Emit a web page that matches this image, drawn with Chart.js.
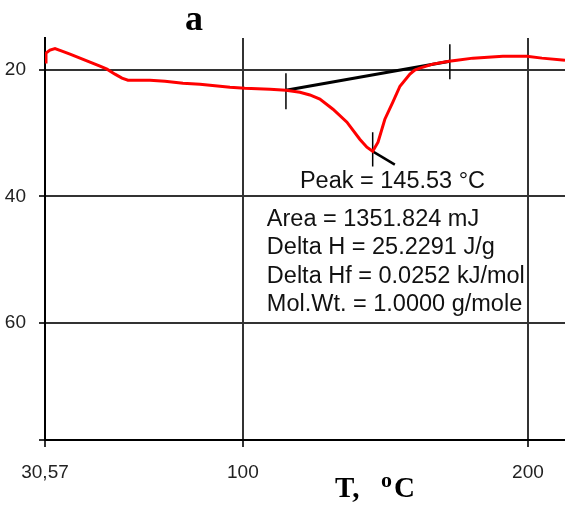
<!DOCTYPE html>
<html>
<head>
<meta charset="utf-8">
<script src="https://cdn.jsdelivr.net/npm/chart.js@4.4.1/dist/chart.umd.min.js"></script>
<style>
  html, body { margin: 0; padding: 0; background: #fff; }
</style>
</head>
<body>
<canvas id="dsc" width="565" height="511"></canvas>
<script>
// DSC trace: temperature (°C) vs heat flow
const temps = [30.57, 30.92, 32.32, 34.08, 36.53, 39.34, 42.85, 46.35, 49.86, 52.32,
  55.12, 57.58, 59.68, 67.4, 72.66, 78.97, 84.94, 95.46, 100.72, 109.5,
  115.1, 120.0, 123.5, 127.0, 131.6, 136.5, 141.0, 143.5, 145.53, 147.4,
  149.8, 152.6, 155.1, 158.6, 160.3, 162.1, 166.6, 172.3, 175.1, 180.7,
  191.2, 199.6, 204.9, 213.0];
const heatFlow = [18.81, 17.39, 16.92, 16.68, 17.08, 17.55, 18.18, 18.81, 19.45, 19.92,
  20.71, 21.34, 21.66, 21.66, 21.82, 22.13, 22.29, 22.77, 22.92, 23.08,
  23.24, 23.56, 24.0, 24.66, 26.25, 28.3, 30.99, 32.25, 32.9, 31.46,
  27.83, 25.14, 22.61, 20.71, 20.08, 19.76, 19.13, 18.66, 18.5, 18.18,
  17.87, 17.87, 18.18, 18.5];

const xTicks = [30.57, 100, 200];
const yTicks = [20, 40, 60];

// integration baseline and its markers
const baselineT = [115.1, 172.6];
const baselineY = [23.24, 18.66];
const onsetMarkY = [20.55, 26.25];
const endMarkY = [15.97, 21.5];
const peakT = 145.53;
const peakMarkY = [29.9, 35.3];
const peakLeaderT = [145.53, 153.3];
const peakLeaderY = [32.9, 35.0];

const peakLabel = "Peak = 145.53 °C";
const resultLines = [
  "Area = 1351.824 mJ",
  "Delta H = 25.2291 J/g",
  "Delta Hf = 0.0252 kJ/mol",
  "Mol.Wt. = 1.0000 g/mole"
];

const xMin = 30.57, xMax = 213;
const yMin = 15, yMax = 78.5;

const pts = (xs, ys) => xs.map((v, i) => ({ x: v, y: ys[i] }));

function segment(data, width) {
  return {
    data: data,
    showLine: true,
    borderColor: "#000",
    borderWidth: width,
    pointRadius: 0,
    tension: 0
  };
}

const sansFont = '"Liberation Sans", Arial, sans-serif';
const serifFont = '"Liberation Serif", "Times New Roman", serif';

// texts on the plot and the bold headings
const notes = {
  id: "notes",
  afterDatasetsDraw(chart) {
    const { ctx, scales: { x, y } } = chart;
    ctx.save();
    ctx.fillStyle = "#111";
    ctx.font = "23.5px " + sansFont;
    ctx.textBaseline = "middle";
    ctx.textAlign = "left";
    ctx.fillText(peakLabel, x.getPixelForValue(120.0), y.getPixelForValue(37.6));
    resultLines.forEach((t, i) => {
      ctx.fillText(t, x.getPixelForValue(108.4), y.getPixelForValue(43.64 + i * 4.5));
    });
    ctx.restore();
  },
  afterDraw(chart) {
    const ctx = chart.ctx;
    ctx.save();
    ctx.fillStyle = "#000";
    ctx.textBaseline = "alphabetic";
    ctx.textAlign = "left";
    ctx.font = "bold 36px " + serifFont;
    ctx.fillText("a", 185, 30);
    ctx.font = "bold 29px " + serifFont;
    ctx.fillText("T,", 335, 497);
    ctx.fillText("C", 394, 497);
    ctx.font = "bold 22px " + serifFont;
    ctx.fillText("o", 381, 487);
    ctx.restore();
  }
};

new Chart(document.getElementById("dsc"), {
  type: "scatter",
  data: {
    datasets: [
      {
        data: pts(temps, heatFlow),
        showLine: true,
        borderColor: "#ff0000",
        borderWidth: 3,
        pointRadius: 0,
        tension: 0
      },
      segment(pts(baselineT, baselineY), 3),
      segment(pts([baselineT[0], baselineT[0]], onsetMarkY), 1.5),
      segment(pts([baselineT[1], baselineT[1]], endMarkY), 1.5),
      segment(pts([peakT, peakT], peakMarkY), 1.5),
      segment(pts(peakLeaderT, peakLeaderY), 2.5)
    ]
  },
  options: {
    responsive: false,
    animation: false,
    devicePixelRatio: 1,
    layout: { padding: { top: 38, left: 0, right: 0, bottom: 0 } },
    plugins: {
      legend: { display: false },
      tooltip: { enabled: false }
    },
    scales: {
      x: {
        type: "linear",
        min: xMin,
        max: xMax,
        afterBuildTicks: (scale) => {
          scale.ticks = xTicks.map((v) => ({ value: v }));
        },
        afterFit: (scale) => {
          scale.height = 71;
        },
        ticks: {
          font: { size: 19, family: sansFont },
          color: "#222",
          padding: 14,
          maxRotation: 0,
          callback: (v) => String(v).replace(".", ",")
        },
        grid: { color: "#333", lineWidth: 2, tickLength: 7 },
        border: { color: "#000", width: 2 }
      },
      y: {
        type: "linear",
        reverse: true,
        min: yMin,
        max: yMax,
        afterBuildTicks: (scale) => {
          scale.ticks = yTicks.concat([yMax]).map((v) => ({ value: v }));
        },
        afterFit: (scale) => {
          scale.width = 45;
        },
        ticks: {
          font: { size: 19, family: sansFont },
          color: "#222",
          padding: 13,
          callback: (v) => (yTicks.includes(v) ? v : "")
        },
        grid: { color: "#333", lineWidth: 2, tickLength: 6 },
        border: { color: "#000", width: 2 }
      }
    }
  },
  plugins: [notes]
});
</script>
</body>
</html>
